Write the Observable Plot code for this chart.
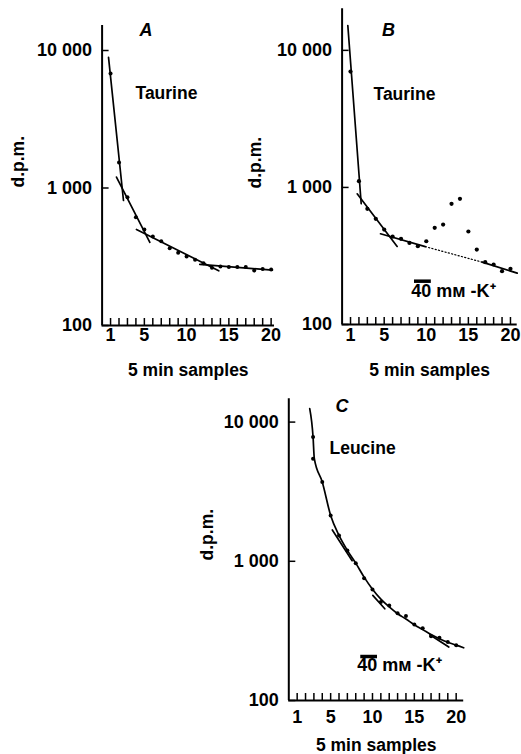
<!DOCTYPE html>
<html><head><meta charset="utf-8">
<script src="https://cdn.jsdelivr.net/npm/d3@7"></script>
<script src="https://cdn.jsdelivr.net/npm/@observablehq/plot@0.6"></script>
<style>
html,body{margin:0;padding:0;background:#fff;}
#wrap{position:relative;width:521px;height:754px;overflow:hidden;background:#fff;}
#wrap svg{position:absolute;}
</style></head><body><div id="wrap"></div>
<script>
// ---- data ----
const samples = [1,2,3,4,5,6,7,8,9,10,11,12,13,14,15,16,17,18,19,20];
const xTickLabels = [1,5,10,15,20];
const yTicks = [100,1000,10000];
const yTickLabels = ["100","1 000","10 000"];

// Panel A (Taurine)
const dpmA = [6800,1533,857,613,499,444,410,365,338,318,301,284,263,269,266,266,266,251,258,255];
const fitA1 = [[0.76,8900],[2.53,811]];
const fitA2 = [[1.7,1200],[5.65,403]];
const fitA3 = [[4.07,500],[13.8,250]];
const fitA4 = [[11.56,278],[20.15,253]];

// Panel B (Taurine, 40 mM K+)
const dpmB = [7000,1110,698,590,493,438,422,394,373,405,507,536,759,826,477,352,285,274,245,255];
const fitB1 = [[0.68,15170],[2.27,760]];
const fitB2 = [[1.79,898],[6.54,371]];
const fitB3a = [[4.56,459],[9.88,370]];
const fitB3dotted = [[9.88,370],[16.64,285]];
const fitB3b = [[16.64,285],[20.8,237]];

// Panel C (Leucine, 40 mM K+)
const samplesC = [2.9,2.9,4,5,6,7,8,9,10,11,12,13,14,15,16,17,18,19,20];
const dpmC = [7800,5460,3706,2137,1535,1197,970,757,628,509,482,424,404,352,331,289,282,263,249];
const fitCmain = [[2.5,12500],[2.9,7800],[3.05,5460],[4,3706],[5,2137],[6,1535],[7,1197],[8,970],[9,770],[10,630],[11,535],[12,470],[13,420],[14,385],[15,350],[16,323],[17,298],[18,278],[19,262],[20,250],[20.9,239]];
const fitC1 = [[5.2,1680],[7.57,1010]];
const fitC2 = [[10.04,569],[11.47,456]];
const fitC3 = [[16.85,297],[19.12,242]];

const pulseK = [8.6,10.6];
const pulseLevel = 207;
const pulseLabel = "40 mм -K\u207A";

// ---- drawing ----
const font = "'Liberation Sans', Arial, Helvetica, sans-serif";
const wrap = document.getElementById("wrap");

function fitLine(seg, extra = {}) {
  return Plot.line(seg, {x: d => d[0], y: d => d[1], stroke: "#000", strokeWidth: 1.7, ...extra});
}

function panel(c) {
  const fw = c.width - c.mL - c.mR, fh = c.height - c.mT - c.mB;
  const marks = [
    Plot.ruleX([0], {stroke: "#000", strokeWidth: 2}),
    Plot.ruleY([100], {x1: 0, x2: c.xMax, stroke: "#000", strokeWidth: 2}),
    Plot.ruleX(samples, {x: d => d, insetTop: fh - 7, stroke: "#000", strokeWidth: 1.5}),
    Plot.ruleY(yTicks, {y: d => d, insetRight: fw - 7, stroke: "#000", strokeWidth: 1.5}),
    Plot.axisY(yTicks, {tickSize: 0, tickPadding: 10, label: null,
      tickFormat: d => yTickLabels[yTicks.indexOf(d)], fontSize: 18, fontWeight: "bold"}),
    Plot.axisX(xTickLabels, {tickSize: 0, tickPadding: c.xPad, label: null,
      tickFormat: d => String(d), fontSize: 18, fontWeight: "bold"}),
    Plot.text(["5 min samples"], {text: d => d, frameAnchor: "bottom", dy: c.titleDy, lineAnchor: "middle", fontSize: 17.5, fontWeight: "bold"}),
    Plot.text(["d.p.m."], {text: d => d, frameAnchor: "left", dx: c.dpmDx, dy: c.dpmDy, rotate: -90, fontSize: 17.5, fontWeight: "bold"}),
    Plot.text([c.letter], {text: d => d, frameAnchor: "top-left", dx: c.letterDx, dy: c.letterDy, fontSize: 18, fontWeight: "bold", fontStyle: "italic"}),
    Plot.text([c.species], {text: d => d, frameAnchor: "top-left", textAnchor: "start", dx: c.spDx, dy: c.spDy, fontSize: 17.5, fontWeight: "bold"}),
    ...c.marks
  ];
  const svg = Plot.plot({
    width: c.width, height: c.height,
    marginLeft: c.mL, marginRight: c.mR, marginTop: c.mT, marginBottom: c.mB,
    x: {type: "linear", domain: [0, c.xMax]},
    y: {type: "log", domain: [100, c.yTop]},
    style: {background: "transparent", fontFamily: font, fontSize: "16px", fontWeight: "bold", color: "#000", overflow: "visible"},
    marks
  });
  svg.style.left = c.left + "px";
  svg.style.top = c.top + "px";
  wrap.appendChild(svg);
}

function pulseMarks(dx, dy) {
  return [
    Plot.ruleY([pulseLevel], {x1: pulseK[0], x2: pulseK[1], stroke: "#000", strokeWidth: 3.5}),
    Plot.text([pulseLabel], {text: d => d, frameAnchor: "bottom-left", textAnchor: "start", dx, dy, fontSize: 18, fontWeight: "bold"})
  ];
}

panel({
  left: 0, top: 0, width: 290, height: 385,
  mL: 101.6, mR: 16, mT: 25, mB: 60, xMax: 20.4, yTop: 15200,
  xPad: 3, titleDy: 45, dpmDx: -84, dpmDy: 12,
  letter: "A", letterDx: 37.4, letterDy: -2,
  species: "Taurine", spDx: 33.4, spDy: 61,
  marks: [
    fitLine(fitA1), fitLine(fitA2), fitLine(fitA3), fitLine(fitA4),
    Plot.dot(samples, {x: d => d, y: (d, i) => dpmA[i], r: 2, fill: "#000"})
  ]
});

panel({
  left: 260, top: 0, width: 261, height: 385,
  mL: 81.6, mR: 4.3, mT: 8.3, mB: 61, xMax: 20.8, yTop: 20100,
  xPad: 4, titleDy: 46, dpmDx: -86.6, dpmDy: 21.8,
  letter: "B", letterDx: 39.9, letterDy: 14.7,
  species: "Taurine", spDx: 31.4, spDy: 79.2,
  marks: [
    fitLine(fitB1), fitLine(fitB2), fitLine(fitB3a), fitLine(fitB3b),
    fitLine(fitB3dotted, {strokeWidth: 1.2, strokeDasharray: "1.2,2.2"}),
    Plot.dot(samples, {x: d => d, y: (d, i) => dpmB[i], r: 2.1, fill: "#000"}),
    ...pulseMarks(69.1, -28)
  ]
});

panel({
  left: 190, top: 380, width: 331, height: 374,
  mL: 98.3, mR: 57.8, mT: 18.3, mB: 54, xMax: 20.9, yTop: 14700,
  xPad: 10, titleDy: 45, dpmDx: -81.3, dpmDy: 10.8,
  letter: "C", letterDx: 46.7, letterDy: 0.7,
  species: "Leucine", spDx: 40.7, spDy: 42.7,
  marks: [
    fitLine(fitCmain, {curve: "monotone-x"}), fitLine(fitC1), fitLine(fitC2), fitLine(fitC3),
    Plot.dot(samplesC, {x: d => d, y: (d, i) => dpmC[i], r: 2, fill: "#000"}),
    ...pulseMarks(68.4, -30)
  ]
});
</script></body></html>
